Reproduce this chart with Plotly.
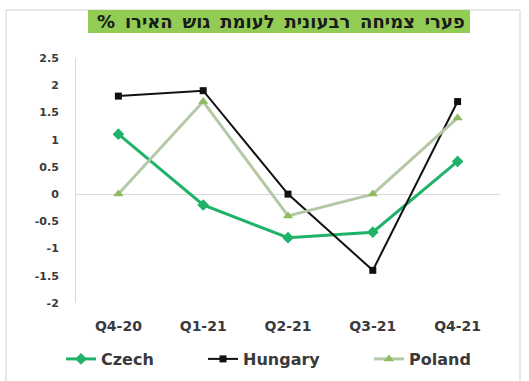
import plotly.graph_objects as go

# Quarterly growth gap versus the euro area, percentage points
quarters = ["Q4-20", "Q1-21", "Q2-21", "Q3-21", "Q4-21"]
czech = [1.1, -0.2, -0.8, -0.7, 0.6]
hungary = [1.8, 1.9, 0.0, -1.4, 1.7]
poland = [0.0, 1.7, -0.4, 0.0, 1.4]
y_ticks = [2.5, 2, 1.5, 1, 0.5, 0, -0.5, -1, -1.5, -2]
y_tick_text = ["2.5", "2", "1.5", "1", "0.5", "0", "-0.5", "-1", "-1.5", "-2"]
title_text = "פערי צמיחה רבעונית לעומת גוש האירו %"

# plot area in pixels: x 76..500, y 58..303
PX_L, PX_R, PX_T, PX_B = 76, 500, 58, 303
W, H = 529, 381
TEXT = "#3a3a3a"
FONT = "DejaVu Sans"


def px_x(x):
    return (x - PX_L) / (PX_R - PX_L)


def px_y(y):
    return (PX_B - y) / (PX_B - PX_T)


fig = go.Figure()
fig.add_trace(go.Scatter(
    x=quarters, y=czech, name="Czech", mode="lines+markers", legend="legend",
    line=dict(color="#1fb36a", width=3),
    marker=dict(symbol="diamond", size=9, color="#1fb36a"),
))
fig.add_trace(go.Scatter(
    x=quarters, y=hungary, name="Hungary", mode="lines+markers", legend="legend2",
    line=dict(color="#111111", width=2),
    marker=dict(symbol="square", size=7, color="#111111"),
))
fig.add_trace(go.Scatter(
    x=quarters, y=poland, name="Poland", mode="lines+markers", legend="legend3",
    line=dict(color="#b5c8a6", width=3),
    marker=dict(symbol="triangle-up", size=9, color="#8dbb5e"),
))

# Outer frame of the chart
fig.add_shape(type="rect", xref="paper", yref="paper",
              x0=px_x(6), x1=px_x(520), y0=px_y(386), y1=px_y(10),
              line=dict(color="#d0d0d0", width=1), fillcolor="rgba(0,0,0,0)",
              layer="below")
# Green title band
fig.add_shape(type="rect", xref="paper", yref="paper",
              x0=px_x(88), x1=px_x(470), y0=px_y(33), y1=px_y(10),
              line=dict(width=0), fillcolor="#92cc55", layer="below")
wide_title = title_text.replace(" ", " \u2009")
fig.add_annotation(
    xref="paper", yref="paper", x=px_x(281), y=px_y(21.5),
    text="<b>\u2067" + wide_title + "\u2069</b>", showarrow=False,
    font=dict(family=FONT, size=18, color="#1a1a1a"),
    xanchor="center", yanchor="middle",
)


def legend_at(text_left):
    return dict(
        orientation="h", xref="container", yref="container",
        x=(text_left - 39) / W, y=1 - 359 / H, xanchor="left", yanchor="middle",
        font=dict(family=FONT, size=16, color=TEXT, weight="bold"),
        itemwidth=30, bgcolor="rgba(0,0,0,0)",
    )


fig.update_layout(
    width=W, height=H,
    margin=dict(l=PX_L, r=W - PX_R, t=PX_T, b=H - PX_B, autoexpand=False),
    paper_bgcolor="white", plot_bgcolor="white",
    font=dict(family=FONT, color=TEXT),
    showlegend=True,
    legend=legend_at(100),
    legend2=legend_at(242),
    legend3=legend_at(408),
    xaxis=dict(
        type="category", range=[-0.5, 4.5],
        showgrid=False, zeroline=False, showline=False, ticks="",
        tickfont=dict(family=FONT, size=14, color=TEXT, weight="bold"),
        ticklabelstandoff=13,
    ),
    yaxis=dict(
        range=[-2, 2.5], tickvals=y_ticks, ticktext=y_tick_text,
        showgrid=False, zeroline=True, zerolinecolor="#d9d9d9", zerolinewidth=1,
        showline=True, linecolor="#d9d9d9", linewidth=1, ticks="",
        tickfont=dict(family=FONT, size=11, color=TEXT, weight="bold"),
        ticklabelstandoff=14,
    ),
)

fig.write_html("out.html")
